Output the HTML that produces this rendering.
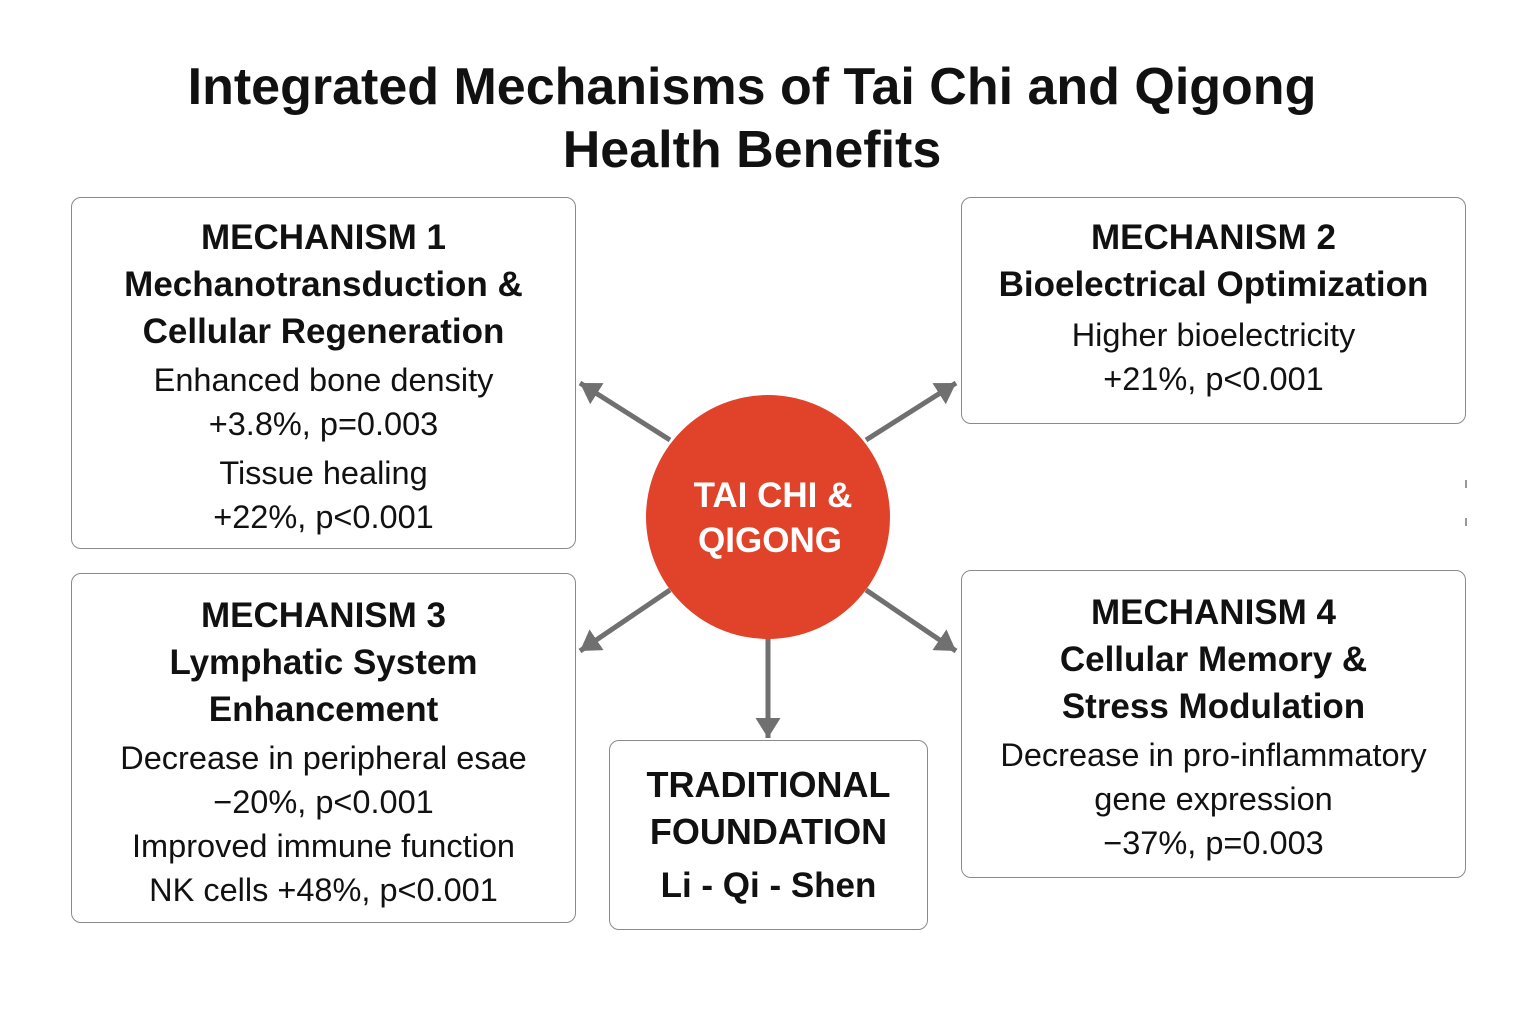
<!DOCTYPE html>
<html><head><meta charset="utf-8"><style>
body{margin:0;width:1536px;height:1024px;background:#fff;position:relative;font-family:"Liberation Sans","DejaVu Sans",sans-serif;color:#111;overflow:hidden}
.t{position:absolute;left:0;width:1504px;text-align:center;font-size:52px;font-weight:600;line-height:63px;top:56px}
.b{position:absolute;border:1.5px solid #8a8a8a;border-radius:10px;box-sizing:border-box;text-align:center}
.h{font-size:35px;font-weight:600;line-height:47px}
.p{font-size:32.5px;line-height:44px}
</style></head><body>
<div class="t">Integrated Mechanisms of Tai Chi and Qigong<br>Health Benefits</div>
<svg width="1536" height="1024" style="position:absolute;left:0;top:0">
<defs><marker id="a" markerWidth="5" markerHeight="5" refX="4" refY="2.5" orient="auto" markerUnits="strokeWidth"><path d="M0,0 L4,2.5 L0,5 z" fill="#707070"/></marker></defs>
<g stroke="#707070" stroke-width="5" marker-end="url(#a)">
<line x1="670" y1="440" x2="580" y2="383"/>
<line x1="866" y1="440" x2="956" y2="383"/>
<line x1="670" y1="590" x2="580" y2="651"/>
<line x1="866" y1="590" x2="956" y2="651"/>
<line x1="768" y1="638" x2="768" y2="738"/>
</g>
<circle cx="768" cy="517" r="122" fill="#e0432a"/>
<text x="773" y="507" text-anchor="middle" fill="#fff" font-size="35" font-weight="600" font-family="Liberation Sans,sans-serif">TAI CHI &amp;</text>
<text x="770" y="552" text-anchor="middle" fill="#fff" font-size="35" font-weight="600" font-family="Liberation Sans,sans-serif">QIGONG</text>
<line x1="1466" y1="480" x2="1466" y2="488" stroke="#999" stroke-width="2"/>
<line x1="1466" y1="518" x2="1466" y2="526" stroke="#999" stroke-width="2"/>
</svg>
<div class="b" style="left:71px;top:197px;width:505px;height:352px;padding-top:16px">
<div class="h">MECHANISM 1<br>Mechanotransduction &amp;<br>Cellular Regeneration</div>
<div class="p" style="margin-top:3px">Enhanced bone density<br>+3.8%, p=0.003</div>
<div class="p" style="margin-top:5px">Tissue healing<br>+22%, p&lt;0.001</div></div>
<div class="b" style="left:961px;top:197px;width:505px;height:227px;padding-top:16px">
<div class="h">MECHANISM 2<br>Bioelectrical Optimization</div>
<div class="p" style="margin-top:5px">Higher bioelectricity<br>+21%, p&lt;0.001</div></div>
<div class="b" style="left:71px;top:573px;width:505px;height:350px;padding-top:18px">
<div class="h">MECHANISM 3<br>Lymphatic System<br>Enhancement</div>
<div class="p" style="margin-top:3px">Decrease in peripheral esae<br>−20%, p&lt;0.001<br>Improved immune function<br>NK cells +48%, p&lt;0.001</div></div>
<div class="b" style="left:961px;top:570px;width:505px;height:308px;padding-top:18px">
<div class="h">MECHANISM 4<br>Cellular Memory &amp;<br>Stress Modulation</div>
<div class="p" style="margin-top:3px">Decrease in pro-inflammatory<br>gene expression<br>−37%, p=0.003</div></div>
<div class="b" style="left:609px;top:740px;width:319px;height:190px;padding-top:20px">
<div class="h" style="font-size:36px;line-height:47px">TRADITIONAL<br>FOUNDATION</div>
<div class="h" style="margin-top:7px">Li - Qi - Shen</div></div>
</body></html>
